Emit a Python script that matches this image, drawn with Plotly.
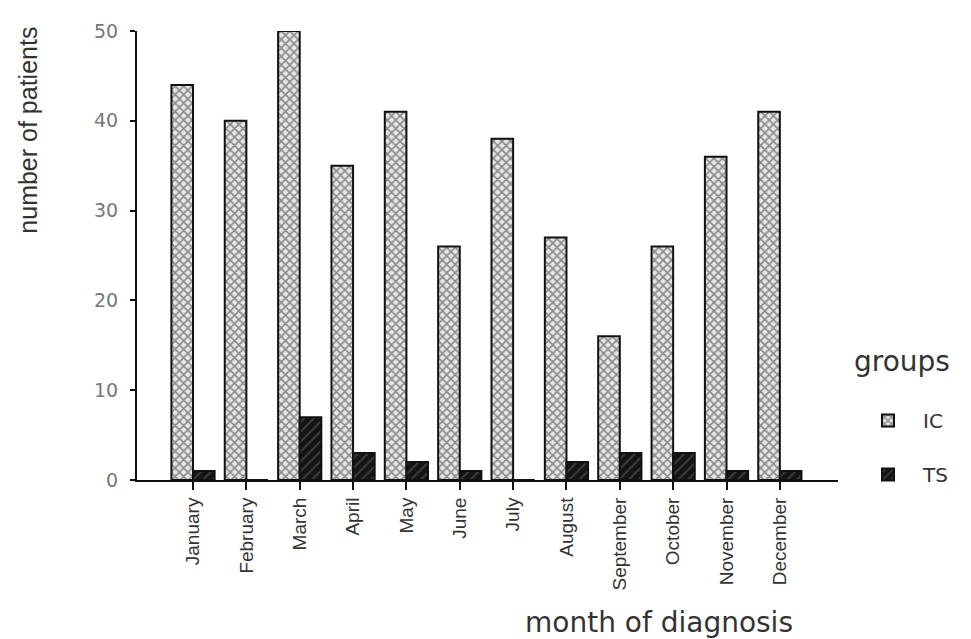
import plotly.graph_objects as go

months = ["January", "February", "March", "April", "May", "June", "July",
          "August", "September", "October", "November", "December"]
ic_values = [44, 40, 50, 35, 41, 26, 38, 27, 16, 26, 36, 41]
ts_values = [1, 0, 7, 3, 2, 1, 0, 2, 3, 3, 1, 1]
y_ticks = [0, 10, 20, 30, 40, 50]

# page is offset by the default 8px body margin
OFF = 8
W, H = 971 - OFF, 639 - OFF
# plot area in page pixels: x 137..838, y 25..480
PX0, PX1, PY0, PY1 = 137, 838, 25, 480
L, T = PX0 - OFF, PY0 - OFF
R = W - (PX1 - OFF)
B = H - (PY1 - OFF)
pw = PX1 - PX0
ph = PY1 - PY0

def px_x(px):
    return (px - PX0) / pw

def px_y(py):
    return (PY1 - py) / ph

xs = list(range(len(months)))

fig = go.Figure()
fig.add_trace(go.Bar(
    x=xs, y=ic_values, name="IC", legendgroup="IC",
    marker=dict(color="#dddddd", line=dict(color="#111111", width=2),
                pattern=dict(shape="x", size=6, solidity=0.45,
                             fgcolor="#2a2a2a", bgcolor="#e6e6e6")),
))
fig.add_trace(go.Bar(
    x=xs, y=ts_values, name="TS", legendgroup="TS",
    marker=dict(color="#111111", line=dict(color="#111111", width=2),
                pattern=dict(shape="/", size=7, solidity=0.25,
                             fgcolor="#707070", bgcolor="#141414")),
))

fig.update_layout(
    width=W, height=H,
    margin=dict(l=L, r=R, t=T, b=B, pad=0),
    plot_bgcolor="white", paper_bgcolor="white",
    barmode="group", bargap=0.19, bargroupgap=0.0,
    showlegend=True,
    legend=dict(
        x=px_x(853), y=px_y(400), xanchor="left", yanchor="top",
        font=dict(family="DejaVu Sans", size=20, color="#333333"),
        tracegroupgap=25, itemwidth=60, bgcolor="rgba(0,0,0,0)",
    ),
    xaxis=dict(
        tickmode="array", tickvals=xs, ticktext=months,
        range=[-1.05, 12.09], tickangle=-90,
        showline=True, linecolor="#111111", linewidth=2,
        ticks="outside", ticklen=8, tickwidth=2, tickcolor="#111111",
        tickfont=dict(family="Liberation Sans", size=19, color="#333333"),
        showgrid=False, zeroline=False,
    ),
    yaxis=dict(
        range=[0, 50], tickvals=y_ticks,
        showline=True, linecolor="#111111", linewidth=2,
        ticks="outside", ticklen=5, tickwidth=2, tickcolor="#111111",
        ticklabelstandoff=8,
        tickfont=dict(family="DejaVu Sans", size=19, color="#777777"),
        showgrid=False, zeroline=False,
    ),
    annotations=[
        dict(text="number of patients", textangle=-90, showarrow=False,
             xref="paper", yref="paper", x=px_x(28), y=px_y(126),
             xanchor="center", yanchor="middle",
             font=dict(family="Liberation Sans", size=25, color="#333333")),
        dict(text="month of diagnosis", showarrow=False,
             xref="paper", yref="paper", x=px_x(659), y=px_y(624),
             xanchor="center", yanchor="middle",
             font=dict(family="DejaVu Sans", size=28, color="#333333")),
        dict(text="groups", showarrow=False,
             xref="paper", yref="paper", x=px_x(852), y=px_y(360),
             xanchor="left", yanchor="middle",
             font=dict(family="DejaVu Sans", size=28, color="#333333")),
    ],
)

fig.write_html("out.html")
